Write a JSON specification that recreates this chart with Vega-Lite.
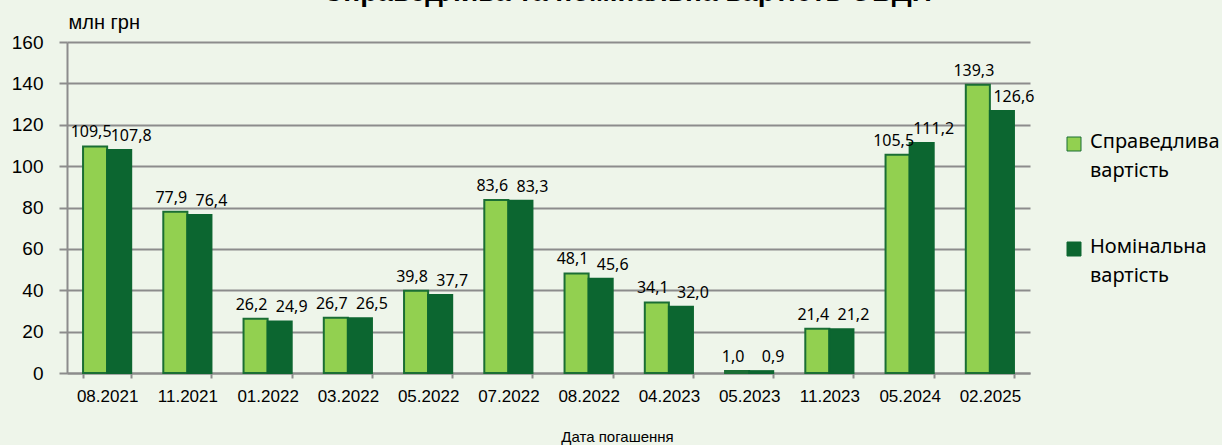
{
  "$schema": "https://vega.github.io/schema/vega-lite/v6.json",
  "autosize": "none",
  "width": 963,
  "height": 331,
  "padding": {"left": 67, "top": 42, "right": 192, "bottom": 72},
  "background": "#eef5ea",
  "title": {
    "text": "Справедлива та номінальна вартість ОВДП",
    "fontSize": 28,
    "fontWeight": "bold",
    "font": "Liberation Sans",
    "color": "#000000",
    "anchor": "middle",
    "baseline": "alphabetic",
    "offset": 2,
    "dx": 79,
    "dy": 19
  },
  "config": {
    "view": {"stroke": null},
    "locale": {"number": {"decimal": ",", "thousands": " ", "grouping": [3], "currency": ["", ""]}},
    "style": {"guide-label": {"lineHeight": 29}}
  },
  "data": {
    "values": [
      {"date": "08.2021", "series": "Справедлива вартість", "value": 109.5},
      {"date": "08.2021", "series": "Номінальна вартість", "value": 107.8},
      {"date": "11.2021", "series": "Справедлива вартість", "value": 77.9},
      {"date": "11.2021", "series": "Номінальна вартість", "value": 76.4},
      {"date": "01.2022", "series": "Справедлива вартість", "value": 26.2},
      {"date": "01.2022", "series": "Номінальна вартість", "value": 24.9},
      {"date": "03.2022", "series": "Справедлива вартість", "value": 26.7},
      {"date": "03.2022", "series": "Номінальна вартість", "value": 26.5},
      {"date": "05.2022", "series": "Справедлива вартість", "value": 39.8},
      {"date": "05.2022", "series": "Номінальна вартість", "value": 37.7},
      {"date": "07.2022", "series": "Справедлива вартість", "value": 83.6},
      {"date": "07.2022", "series": "Номінальна вартість", "value": 83.3},
      {"date": "08.2022", "series": "Справедлива вартість", "value": 48.1},
      {"date": "08.2022", "series": "Номінальна вартість", "value": 45.6},
      {"date": "04.2023", "series": "Справедлива вартість", "value": 34.1},
      {"date": "04.2023", "series": "Номінальна вартість", "value": 32.0},
      {"date": "05.2023", "series": "Справедлива вартість", "value": 1.0},
      {"date": "05.2023", "series": "Номінальна вартість", "value": 0.9},
      {"date": "11.2023", "series": "Справедлива вартість", "value": 21.4},
      {"date": "11.2023", "series": "Номінальна вартість", "value": 21.2},
      {"date": "05.2024", "series": "Справедлива вартість", "value": 105.5},
      {"date": "05.2024", "series": "Номінальна вартість", "value": 111.2},
      {"date": "02.2025", "series": "Справедлива вартість", "value": 139.3},
      {"date": "02.2025", "series": "Номінальна вартість", "value": 126.6}
    ]
  },
  "encoding": {
    "x": {
      "field": "date",
      "type": "nominal",
      "sort": null,
      "scale": {"paddingInner": 0.4, "paddingOuter": 0.2},
      "axis": {
        "title": "Дата погашення",
        "titleFont": "Liberation Sans",
        "titleFontSize": 15,
        "titleFontWeight": "normal",
        "titleColor": "#000000",
        "titleX": 550,
        "titleY": 68,
        "titleAlign": "center",
        "titleBaseline": "alphabetic",
        "labelAngle": 0,
        "labelFont": "Liberation Sans",
        "labelFontSize": 17,
        "labelColor": "#000000",
        "labelPadding": 10,
        "tickBand": "extent",
        "tickSize": 5,
        "tickColor": "#8c8c8c",
        "tickWidth": 2,
        "domainColor": "#8c8c8c",
        "domainWidth": 2
      }
    },
    "xOffset": {
      "field": "series",
      "type": "nominal",
      "sort": ["Справедлива вартість", "Номінальна вартість"]
    },
    "y": {
      "field": "value",
      "type": "quantitative",
      "scale": {"domain": [0, 160]},
      "axis": {
        "values": [0, 20, 40, 60, 80, 100, 120, 140, 160],
        "title": "млн грн",
        "titleAngle": 0,
        "titleAlign": "left",
        "titleBaseline": "alphabetic",
        "titleX": 1,
        "titleY": -14,
        "titleFont": "Liberation Sans",
        "titleFontSize": 20,
        "titleFontWeight": "normal",
        "titleColor": "#000000",
        "labelFont": "Liberation Sans",
        "labelFontSize": 19,
        "labelColor": "#000000",
        "labelPadding": 16,
        "tickSize": 8,
        "tickColor": "#8c8c8c",
        "tickWidth": 2,
        "grid": true,
        "gridColor": "#8c8c8c",
        "gridWidth": 2,
        "domainColor": "#8c8c8c",
        "domainWidth": 2
      }
    }
  },
  "layer": [
    {
      "mark": {"type": "bar", "strokeWidth": 2},
      "encoding": {
        "color": {
          "field": "series",
          "type": "nominal",
          "sort": ["Справедлива вартість", "Номінальна вартість"],
          "scale": {"domain": ["Справедлива вартість", "Номінальна вартість"], "range": ["#92d050", "#0c6630"]},
          "legend": {
            "title": null,
            "orient": "none",
            "legendX": 997,
            "legendY": 92,
            "symbolType": "square",
            "symbolSize": 196,
            "symbolStrokeColor": "#1a6e34",
            "symbolStrokeWidth": 1,
            "labelFont": "Noto Sans",
            "labelFontSize": 20,
            "labelColor": "#000000",
            "labelOffset": 6,
            "labelLimit": 200,
            "labelBaseline": "top",
            "labelExpr": "split(datum.label, ' ')",
            "rowPadding": 56,
            "encode": {"labels": {"update": {"dy": {"value": -12}}}}
          }
        },
        "stroke": {
          "field": "series",
          "type": "nominal",
          "scale": {"domain": ["Справедлива вартість", "Номінальна вартість"], "range": ["#1a6e34", "#0c6630"]},
          "legend": null
        }
      }
    },
    {
      "transform": [{"filter": "datum.series == 'Справедлива вартість'"}],
      "mark": {"type": "text", "baseline": "alphabetic", "dy": -9, "dx": -4, "font": "Noto Sans", "fontSize": 16, "color": "#000000"},
      "encoding": {"text": {"field": "value", "type": "quantitative", "format": ".1f"}}
    },
    {
      "transform": [{"filter": "datum.series == 'Номінальна вартість'"}],
      "mark": {"type": "text", "baseline": "alphabetic", "dy": -9, "dx": 12, "font": "Noto Sans", "fontSize": 16, "color": "#000000"},
      "encoding": {"text": {"field": "value", "type": "quantitative", "format": ".1f"}}
    }
  ]
}
